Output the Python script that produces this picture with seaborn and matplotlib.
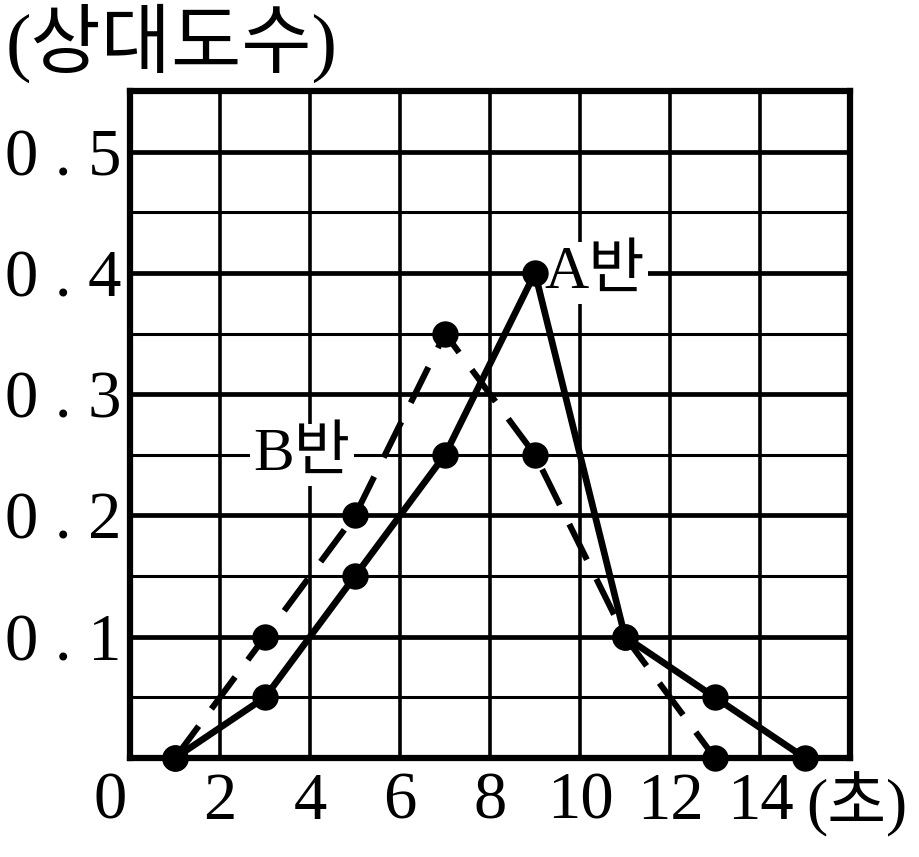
import matplotlib
matplotlib.use("Agg")
import matplotlib.pyplot as plt
import matplotlib.transforms as mtransforms
import seaborn as sns

# 시간(초) 계급값과 반별 상대도수
a_time = [1, 3, 5, 7, 9, 11, 13, 15]
a_freq = [0.0, 0.05, 0.15, 0.25, 0.40, 0.10, 0.05, 0.0]
b_time = [1, 3, 5, 7, 9, 11, 13]
b_freq = [0.0, 0.10, 0.20, 0.35, 0.25, 0.10, 0.0]

x_ticks = [2, 4, 6, 8, 10, 12, 14]
x_labels = ["2", "4", "6", "8", "10", "12", "14"]
y_ticks = [0.1, 0.2, 0.3, 0.4, 0.5]
y_labels = ["0 . 1", "0 . 2", "0 . 3", "0 . 4", "0 . 5"]
y_minor = [0.05, 0.15, 0.25, 0.35, 0.45]

sns.set_style("white")
fonts = ["Liberation Serif", "Noto Sans CJK KR"]
plt.rcParams["font.family"] = fonts
plt.rcParams["text.color"] = "black"

fig = plt.figure(figsize=(9.2, 8.57), dpi=100)
ax = fig.add_axes([130 / 920, 1 - 758 / 857, 720 / 920, 667 / 857])

sns.lineplot(x=a_time, y=a_freq, ax=ax, color="black", linewidth=4.8,
             marker="o", markersize=19, markeredgewidth=0, clip_on=False, zorder=5)
sns.lineplot(x=b_time, y=b_freq, ax=ax, color="black", linewidth=4.4,
             linestyle=(0, (6.5, 3.5)), marker="o", markersize=19, markeredgewidth=0,
             clip_on=False, zorder=5)

ax.set_xlim(0, 16)
ax.set_ylim(0, 0.55)
ax.set_xticks(x_ticks)
ax.set_xticklabels(x_labels)
ax.set_yticks(y_ticks)
ax.set_yticklabels(y_labels)
ax.set_yticks(y_minor, minor=True)
ax.tick_params(axis="both", which="both", length=0, labelsize=48, colors="black")
ax.tick_params(axis="y", pad=6)
ax.tick_params(axis="x", pad=10)
ax.set_axisbelow(True)
ax.grid(True, axis="x", color="black", linewidth=2.6)
ax.grid(True, axis="y", which="major", color="black", linewidth=3.4)
ax.grid(True, axis="y", which="minor", color="black", linewidth=2.2)
for s in ax.spines.values():
    s.set_linewidth(4.5)
    s.set_color("black")
ax.set_xlabel("")
ax.set_ylabel("")

# 원점 0 (축 왼쪽)
trans = mtransforms.blended_transform_factory(ax.transData, ax.transAxes)
trans = trans + mtransforms.ScaledTranslation(0, -10 / 72, fig.dpi_scale_trans)
ax.text(-0.45, 0, "0", transform=trans, ha="center", va="top", fontsize=48)

ax.text(9.2, 0.40, "A반", ha="left", va="center", fontsize=44, zorder=3,
        bbox=dict(facecolor="white", edgecolor="none", pad=2))
ax.text(4.9, 0.25, "B반", ha="right", va="center", fontsize=44, zorder=3,
        bbox=dict(facecolor="white", edgecolor="none", pad=2))

fig.text(6 / 920, 1 - 4 / 857, "(상대도수)", ha="left", va="top", fontsize=55)
fig.text(806 / 920, 1 - 805 / 857, "(초)", ha="left", va="center", fontsize=46)

fig.savefig("out.png", dpi=100)
